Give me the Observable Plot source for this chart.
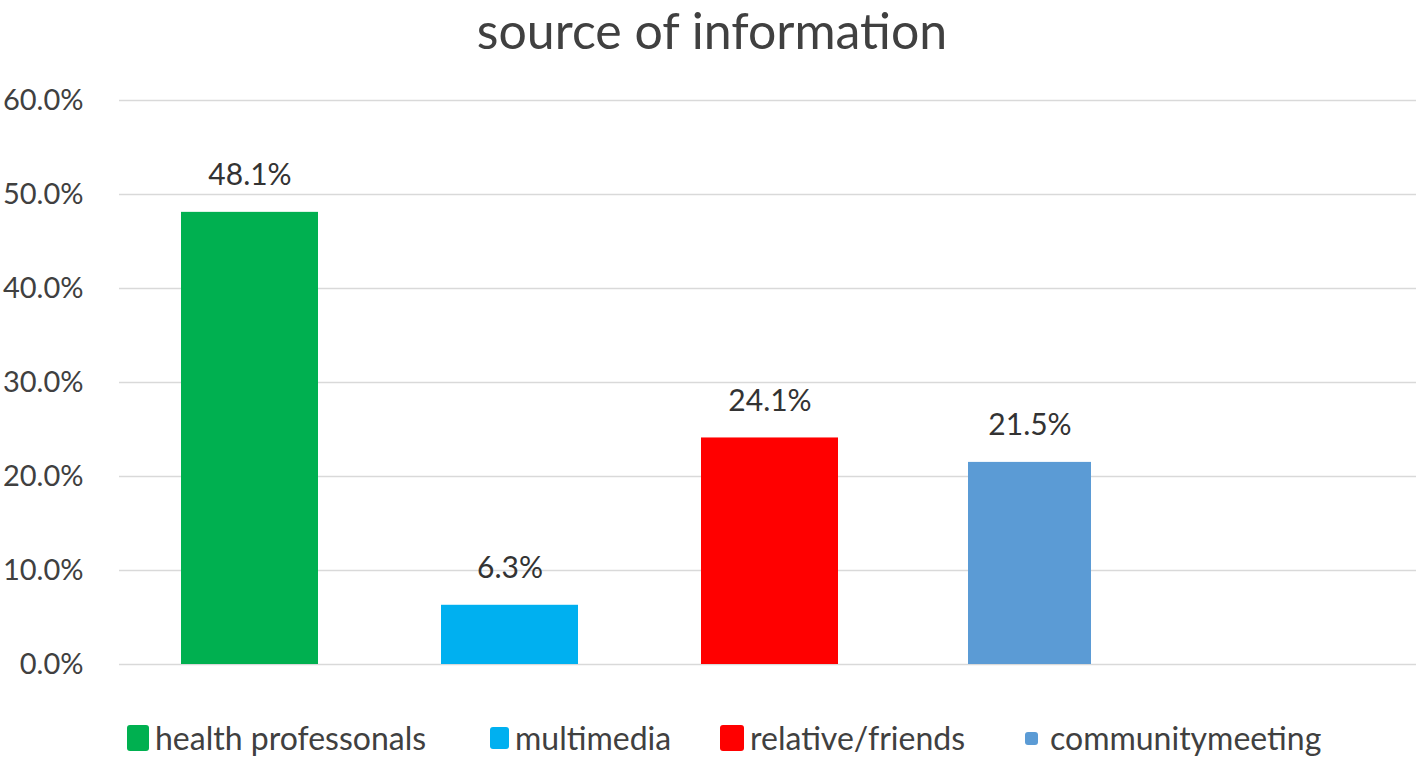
<!DOCTYPE html>
<html>
<head>
<meta charset="utf-8">
<script src="https://cdn.jsdelivr.net/npm/d3@7"></script>
<script src="https://cdn.jsdelivr.net/npm/@observablehq/plot@0.6"></script>
<style>
  html, body { margin: 0; padding: 0; background: #fff; }
  body { width: 1418px; height: 759px; overflow: hidden; font-family: Lato, "Open Sans", sans-serif; color: #404040; }
  #title { height: 60px; text-align: center; font-size: 50px; line-height: 60px; box-sizing: border-box; color: #404040; padding-left: 6px; }
  #chart svg { display: block; }
  #legend { height: 79px; position: relative; font-size: 32px; color: #404040; }
  .item { position: absolute; top: 41px; display: flex; align-items: center; white-space: nowrap; line-height: 34px; }
  .sw { display: inline-block; border-radius: 3px; margin-right: 6px; }
</style>
</head>
<body>
<div id="title">source of information</div>
<div id="chart"></div>
<div id="legend"></div>
<script>
const categories = ["health professonals", "multimedia", "relative/friends", "communitymeeting"];
const values = [48.1, 6.3, 24.1, 21.5];
const colors = ["#00b050", "#00b0f0", "#ff0000", "#5b9bd5"];
const yTicks = [0, 10, 20, 30, 40, 50, 60];
const slots = [...categories, " "]; // Excel leaves an empty fifth slot on the right

const data = categories.map((c, i) => ({category: c, value: values[i]}));
const fmt = v => v.toFixed(1) + "%";

const plot = Plot.plot({
  width: 1418,
  height: 620,
  marginLeft: 119,
  marginRight: 2,
  marginTop: 40,
  marginBottom: 16,
  style: {fontFamily: "Lato, 'Open Sans', sans-serif", color: "#404040", background: "#fff"},
  x: {domain: slots, range: [119.5, 1419.5], paddingInner: 0.473, paddingOuter: 0.2365, axis: null},
  y: {domain: [0, 60], ticks: yTicks, axis: null},
  color: {domain: categories, range: colors},
  marks: [
    Plot.gridY(yTicks, {stroke: "#d9d9d9", strokeOpacity: 1, strokeWidth: 1.6}),
    Plot.axisY(yTicks, {tickSize: 0, tickPadding: 36, tickFormat: fmt, fontSize: 29, fill: "#404040", anchor: "left", label: null}),
    Plot.barY(data.filter(d => d.category !== "communitymeeting"), {x: "category", y: "value", fill: "category"}),
    Plot.barY(data.filter(d => d.category === "communitymeeting"), {x: "category", y: "value", fill: "category", insetLeft: 7, insetRight: 7}),
    Plot.text(data, {x: "category", y: "value", text: d => fmt(d.value), dy: -37, fontSize: 30, fill: "#333"})
  ]
});
document.getElementById("chart").appendChild(plot);

// legend
const legendX = [127, 490, 720, 1025];
const swSize = [[22, 26], [19, 22], [24, 26], [13, 13]];
const legend = document.getElementById("legend");
categories.forEach((c, i) => {
  const item = document.createElement("div");
  item.className = "item";
  item.style.left = legendX[i] + "px";
  const sw = document.createElement("span");
  sw.className = "sw";
  sw.style.background = colors[i];
  sw.style.width = swSize[i][0] + "px";
  sw.style.height = swSize[i][1] + "px";
  if (i === 3) sw.style.marginRight = "12px";
  const t = document.createElement("span");
  t.textContent = c;
  item.appendChild(sw);
  item.appendChild(t);
  legend.appendChild(item);
});
</script>
</body>
</html>
